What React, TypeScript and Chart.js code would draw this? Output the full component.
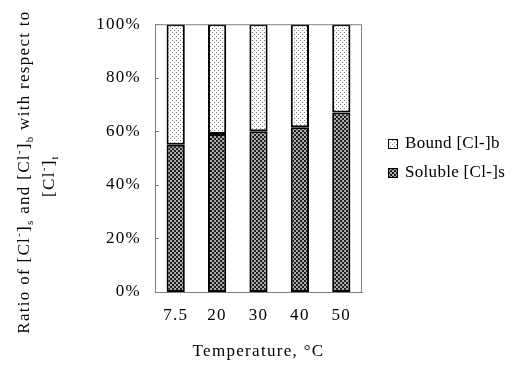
import { useEffect, useRef } from "react";
import { Chart, registerables } from "chart.js";

Chart.register(...registerables);

// Chloride split at each curing temperature (percent of total chloride)
const temperatures = ["7.5", "20", "30", "40", "50"];
const solubleRatio = [55, 59, 60, 61.5, 67];
const boundRatio = [45, 41, 40, 38.5, 33];
const solubleLabel = "Soluble [Cl-]s";
const boundLabel = "Bound [Cl-]b";
const xTitle = "Temperature, \u00B0C";

const FONT = "'Liberation Serif', 'Times New Roman', serif";
const SPACING = "1.3px";

type Seg = [string, "n" | "sup" | "sub"];
const yTitleLine1: Seg[] = [
  ["Ratio of [Cl", "n"], ["-", "sup"], ["]", "n"], ["s", "sub"],
  [" and [Cl", "n"], ["-", "sup"], ["]", "n"], ["b", "sub"],
  [" with respect to", "n"],
];
const yTitleLine2: Seg[] = [["[Cl", "n"], ["-", "sup"], ["]", "n"], ["t", "sub"]];

function makeDotPattern(ctx: CanvasRenderingContext2D) {
  const c = document.createElement("canvas");
  c.width = 4;
  c.height = 4;
  const g = c.getContext("2d")!;
  g.fillStyle = "#ffffff";
  g.fillRect(0, 0, 4, 4);
  g.fillStyle = "#7a7a7a";
  g.fillRect(0, 0, 1, 1);
  g.fillRect(2, 2, 1, 1);
  return ctx.createPattern(c, "repeat")!;
}

function makeCheckPattern(ctx: CanvasRenderingContext2D) {
  const c = document.createElement("canvas");
  c.width = 4;
  c.height = 4;
  const g = c.getContext("2d")!;
  g.fillStyle = "#ababab";
  g.fillRect(0, 0, 4, 4);
  g.fillStyle = "#1f1f1f";
  g.fillRect(0, 0, 2, 2);
  g.fillRect(2, 2, 2, 2);
  return ctx.createPattern(c, "repeat")!;
}

function drawRich(ctx: CanvasRenderingContext2D, segs: Seg[], size: number) {
  const small = Math.round(size * 0.65);
  const widths = segs.map(([t, k]) => {
    ctx.font = `${k === "n" ? size : small}px ${FONT}`;
    return ctx.measureText(t).width;
  });
  const total = widths.reduce((a, b) => a + b, 0);
  let x = -total / 2;
  segs.forEach(([t, k], i) => {
    ctx.font = `${k === "n" ? size : small}px ${FONT}`;
    const dy = k === "sup" ? -size * 0.35 : k === "sub" ? size * 0.3 : 0;
    ctx.fillText(t, x, dy);
    x += widths[i];
  });
}

const setSpacing = (chart: Chart) => {
  (chart.ctx as any).letterSpacing = SPACING;
};

const decorPlugin = {
  id: "decor",
  beforeLayout: setSpacing,
  beforeDraw: setSpacing,
  afterDraw(chart: Chart) {
    const { ctx, chartArea } = chart;
    const { left, right, top, bottom } = chartArea;
    ctx.save();

    // plot frame
    ctx.strokeStyle = "#808080";
    ctx.lineWidth = 1;
    ctx.strokeRect(left + 0.5, top + 0.5, right - left - 1, bottom - top);

    // inward tick marks on the value axis
    const yScale = chart.scales.y;
    yScale.ticks.forEach((t) => {
      const y = Math.round(yScale.getPixelForValue(t.value)) + 0.5;
      ctx.beginPath();
      ctx.moveTo(left, y);
      ctx.lineTo(left + 4, y);
      ctx.stroke();
    });

    // legend
    const items = [chart.data.datasets[1], chart.data.datasets[0]];
    (ctx as any).letterSpacing = "0.3px";
    items.forEach((ds, i) => {
      const y = 144 + i * 29;
      ctx.fillStyle = ds.backgroundColor as any;
      ctx.fillRect(388, y - 5, 10, 10);
      ctx.strokeStyle = "#000";
      ctx.lineWidth = 1;
      ctx.strokeRect(388.5, y - 4.5, 9, 9);
      ctx.fillStyle = "#000";
      ctx.font = `17px ${FONT}`;
      ctx.textBaseline = "middle";
      ctx.textAlign = "left";
      ctx.fillText(ds.label as string, 405, y);
    });

    // value-axis title with sub/superscripts
    (ctx as any).letterSpacing = SPACING;
    ctx.fillStyle = "#000";
    ctx.textBaseline = "middle";
    ctx.textAlign = "left";
    ctx.save();
    ctx.translate(25, 172);
    ctx.rotate(-Math.PI / 2);
    drawRich(ctx, yTitleLine1, 17);
    ctx.restore();
    ctx.save();
    ctx.translate(50, 176);
    ctx.rotate(-Math.PI / 2);
    drawRich(ctx, yTitleLine2, 17);
    ctx.restore();

    ctx.restore();
  },
};

export default function App() {
  const ref = useRef<HTMLCanvasElement>(null);

  useEffect(() => {
    document.body.style.margin = "0";
    const canvas = ref.current!;
    const ctx = canvas.getContext("2d")!;
    const chart = new Chart(canvas, {
      type: "bar",
      data: {
        labels: temperatures,
        datasets: [
          {
            label: solubleLabel,
            data: solubleRatio,
            backgroundColor: makeCheckPattern(ctx),
            borderColor: "#000",
            borderWidth: 2,
            borderSkipped: false,
            barPercentage: 0.44,
            categoryPercentage: 1,
          },
          {
            label: boundLabel,
            data: boundRatio,
            backgroundColor: makeDotPattern(ctx),
            borderColor: "#000",
            borderWidth: 2,
            borderSkipped: false,
            barPercentage: 0.44,
            categoryPercentage: 1,
          },
        ],
      },
      options: {
        animation: false,
        responsive: false,
        layout: { padding: { top: 23, right: 153, left: 0, bottom: 0 } },
        plugins: { legend: { display: false }, tooltip: { enabled: false } },
        scales: {
          x: {
            stacked: true,
            grid: { display: false, drawTicks: false },
            border: { display: true, color: "#808080" },
            ticks: { font: { family: FONT, size: 17 }, color: "#000", padding: 13 },
            title: {
              display: true,
              text: xTitle,
              font: { family: FONT, size: 17 },
              color: "#000",
              padding: { top: 0, bottom: 3 },
            },
            afterFit(scale: any) {
              scale.height = 73;
            },
          },
          y: {
            stacked: true,
            min: 0,
            max: 100,
            grid: { display: false, drawTicks: false },
            border: { display: true, color: "#808080" },
            ticks: {
              stepSize: 20,
              font: { family: FONT, size: 17 },
              color: "#000",
              padding: 14,
              callback: (v: any) => `${v}%`,
            },
            afterFit(scale: any) {
              scale.width = 155;
            },
          },
        },
      },
      plugins: [decorPlugin],
    });
    return () => chart.destroy();
  }, []);

  return <canvas ref={ref} width={515} height={365} style={{ display: "block" }} />;
}
